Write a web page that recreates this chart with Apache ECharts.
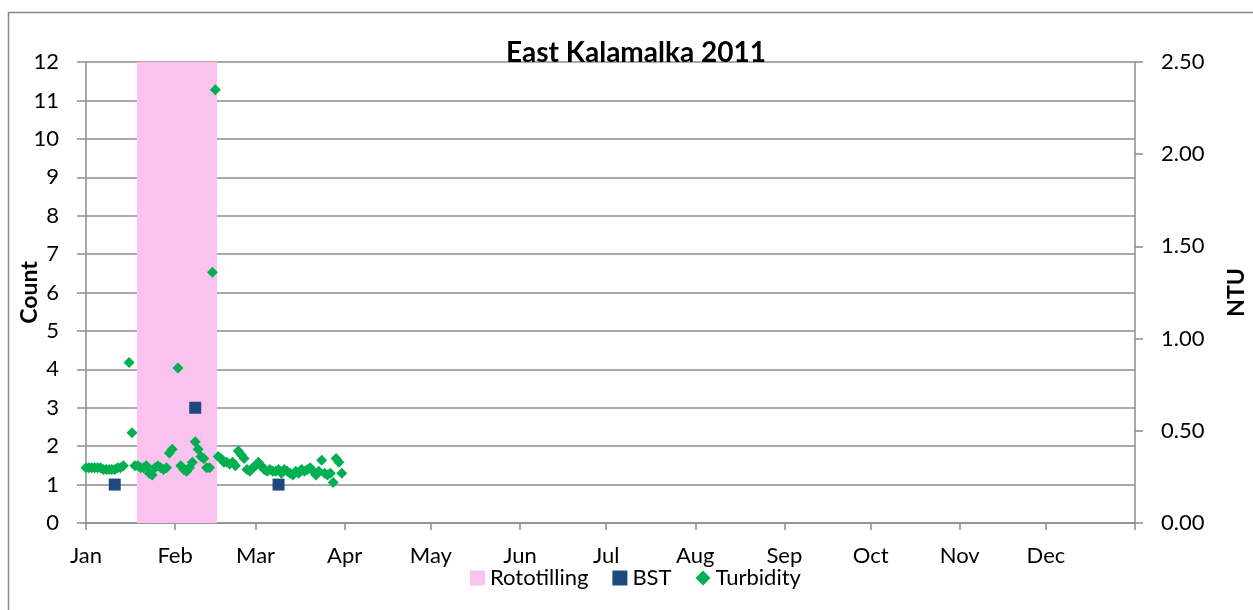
<!DOCTYPE html>
<html>
<head>
<meta charset="utf-8">
<title>East Kalamalka 2011</title>
<script src="https://cdn.jsdelivr.net/npm/echarts@6/dist/echarts.min.js"></script>
<style>
  html, body { margin: 0; padding: 0; background: #fff; }
  #chart { width: 1253px; height: 610px; }
</style>
</head>
<body>
<div id="chart"></div>
<script>
// month labels on the date axis
var months = ['Jan', 'Feb', 'Mar', 'Apr', 'May', 'Jun', 'Jul', 'Aug', 'Sep', 'Oct', 'Nov', 'Dec']
var monthStarts = ['2011-01-01', '2011-02-01', '2011-03-01', '2011-04-01', '2011-05-01', '2011-06-01',
  '2011-07-01', '2011-08-01', '2011-09-01', '2011-10-01', '2011-11-01', '2011-12-01']

// rototilling period (shaded)
var rototillStart = '2011-01-19'
var rototillEnd = '2011-02-15'

// BST counts
var bstDates = ['2011-01-11', '2011-02-08', '2011-03-09']
var bstValues = [1, 3, 1]

// turbidity (NTU)
var turbDates = [
  '2011-01-01', '2011-01-02', '2011-01-03', '2011-01-04', '2011-01-05', '2011-01-06', '2011-01-07',
  '2011-01-08', '2011-01-09', '2011-01-10', '2011-01-11', '2011-01-12', '2011-01-13', '2011-01-14',
  '2011-01-16', '2011-01-17', '2011-01-18', '2011-01-19', '2011-01-20', '2011-01-21', '2011-01-22',
  '2011-01-23', '2011-01-24', '2011-01-25', '2011-01-26', '2011-01-27', '2011-01-28', '2011-01-29',
  '2011-01-30', '2011-01-31', '2011-02-02', '2011-02-03', '2011-02-04', '2011-02-05', '2011-02-06',
  '2011-02-07', '2011-02-08', '2011-02-09', '2011-02-10', '2011-02-11', '2011-02-12', '2011-02-13',
  '2011-02-14', '2011-02-15', '2011-02-16', '2011-02-17', '2011-02-18', '2011-02-19', '2011-02-20',
  '2011-02-21', '2011-02-22', '2011-02-23', '2011-02-24', '2011-02-25', '2011-02-26', '2011-02-27',
  '2011-02-28', '2011-03-01', '2011-03-02', '2011-03-03', '2011-03-04', '2011-03-05', '2011-03-06',
  '2011-03-07', '2011-03-08', '2011-03-09', '2011-03-10', '2011-03-11', '2011-03-12', '2011-03-13',
  '2011-03-14', '2011-03-15', '2011-03-16', '2011-03-17', '2011-03-18', '2011-03-19', '2011-03-20',
  '2011-03-21', '2011-03-22', '2011-03-23', '2011-03-24', '2011-03-25', '2011-03-26', '2011-03-27',
  '2011-03-28', '2011-03-29', '2011-03-30', '2011-03-31'
]
var turbValues = [
  0.30, 0.30, 0.30, 0.30, 0.30, 0.30, 0.29,
  0.29, 0.29, 0.29, 0.29, 0.30, 0.30, 0.31,
  0.87, 0.49, 0.31, 0.31, 0.30, 0.30, 0.31,
  0.27, 0.26, 0.30, 0.31, 0.30, 0.29, 0.30,
  0.38, 0.40, 0.84, 0.31, 0.29, 0.28, 0.30,
  0.33, 0.44, 0.40, 0.36, 0.35, 0.30, 0.30,
  1.36, 2.35, 0.36, 0.35, 0.33, 0.33, 0.32,
  0.33, 0.31, 0.39, 0.37, 0.35, 0.29, 0.28,
  0.30, 0.31, 0.33, 0.31, 0.29, 0.28, 0.29,
  0.28, 0.28, 0.29, 0.27, 0.29, 0.28, 0.27,
  0.26, 0.28, 0.27, 0.29, 0.28, 0.29, 0.30,
  0.28, 0.26, 0.28, 0.34, 0.27, 0.26, 0.27,
  0.22, 0.35, 0.33, 0.27
]

// day of year, Jan 1 = 0
function dayOf (s) {
  var p = s.split('-')
  return (Date.UTC(+p[0], +p[1] - 1, +p[2]) - Date.UTC(2011, 0, 1)) / 86400000
}

var monthDays = monthStarts.map(dayOf)
var font = 'Lato, "Open Sans", sans-serif'
var gridGray = '#8c8c8c'
var labelSize = 22

var chart = echarts.init(document.getElementById('chart'))
chart.setOption({
  animation: false,
  textStyle: { fontFamily: font },
  title: {
    text: 'East Kalamalka 2011',
    left: 631,
    top: 34,
    textAlign: 'center',
    textStyle: { fontFamily: font, fontSize: 28, fontWeight: 'bold', color: '#000' }
  },
  graphic: [{
    type: 'rect',
    shape: { x: 8.5, y: 12.5, width: 1300, height: 700 },
    style: { fill: 'none', stroke: '#888', lineWidth: 1.5 },
    silent: true
  }],
  legend: {
    top: 562,
    left: 465,
    itemWidth: 15,
    itemHeight: 15,
    itemGap: 24,
    textStyle: { fontFamily: font, fontSize: labelSize, color: '#000' },
    data: [
      { name: 'Rototilling', icon: 'rect', itemStyle: { color: '#f9c2ef' } },
      { name: 'BST', icon: 'rect' },
      { name: 'Turbidity', icon: 'diamond' }
    ]
  },
  grid: { left: 86, right: 118, top: 62, bottom: 87, outerBoundsMode: 'none', containLabel: false },
  xAxis: {
    type: 'value',
    min: 0,
    max: 365,
    splitLine: { show: false },
    axisLine: { lineStyle: { color: gridGray, width: 1.5 } },
    axisTick: { show: true, length: 7, customValues: monthDays.concat([365]), lineStyle: { color: gridGray, width: 1.5 } },
    axisLabel: {
      customValues: monthDays,
      margin: 22,
      fontSize: labelSize,
      color: '#000',
      fontFamily: font,
      formatter: function (v) {
        return months[monthDays.indexOf(v)]
      }
    }
  },
  yAxis: [
    {
      type: 'value',
      min: 0,
      max: 12,
      interval: 1,
      name: 'Count',
      nameLocation: 'middle',
      nameGap: 45,
      nameMoveOverlap: false,
      nameTextStyle: { fontFamily: font, fontSize: 23, fontWeight: 'bold', color: '#000' },
      axisLine: { show: true, lineStyle: { color: gridGray, width: 1.5 } },
      axisTick: { show: true, length: 9, lineStyle: { color: gridGray, width: 1.5 } },
      axisLabel: { margin: 27, fontSize: labelSize, color: '#000', fontFamily: font },
      splitLine: { lineStyle: { color: gridGray, width: 1.5 } }
    },
    {
      type: 'value',
      min: 0,
      max: 2.5,
      interval: 0.5,
      position: 'right',
      name: 'NTU',
      nameLocation: 'middle',
      nameGap: 90,
      nameMoveOverlap: false,
      nameTextStyle: { fontFamily: font, fontSize: 23, fontWeight: 'bold', color: '#000' },
      axisLine: { show: true, lineStyle: { color: gridGray, width: 1.5 } },
      axisTick: { show: true, length: 8, lineStyle: { color: gridGray, width: 1.5 } },
      axisLabel: {
        margin: 26,
        fontSize: labelSize,
        color: '#000',
        fontFamily: font,
        formatter: function (v) { return v.toFixed(2) }
      },
      splitLine: { show: false }
    }
  ],
  series: [
    {
      name: 'Rototilling',
      type: 'line',
      data: [],
      itemStyle: { color: '#f9c2ef' },
      markArea: {
        silent: true,
        itemStyle: { color: '#f9c2ef', opacity: 1 },
        data: [[{ xAxis: dayOf(rototillStart) - 0.3 }, { xAxis: dayOf(rototillEnd) + 0.6 }]]
      }
    },
    {
      name: 'BST',
      type: 'scatter',
      yAxisIndex: 0,
      symbol: 'rect',
      symbolSize: 12,
      itemStyle: { color: '#1f497d', opacity: 1 },
      data: bstDates.map(function (d, i) { return [dayOf(d), bstValues[i]] }),
      z: 3
    },
    {
      name: 'Turbidity',
      type: 'scatter',
      yAxisIndex: 1,
      symbol: 'diamond',
      symbolSize: 11,
      itemStyle: { color: '#00b050', opacity: 1 },
      data: turbDates.map(function (d, i) { return [dayOf(d), turbValues[i]] }),
      z: 4
    }
  ]
})
</script>
</body>
</html>
